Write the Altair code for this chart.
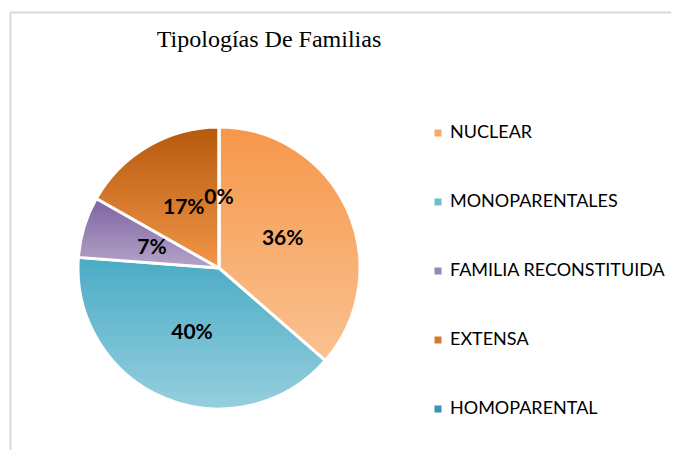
import altair as alt
import pandas as pd

# ---- data ----
categories = ["NUCLEAR", "MONOPARENTALES", "FAMILIA RECONSTITUIDA", "EXTENSA", "HOMOPARENTAL"]
values = [36.4, 39.8, 7.0, 16.8, 0.0]
title_text = "Tipologías De Familias"

# ---- styles ----
legend_colors = ["#f9a96a", "#6bbdd3", "#9a85b8", "#d7782a", "#3a93ab"]
gradients = {
    "NUCLEAR": ("#f6974a", "#fac291"),
    "MONOPARENTALES": ("#4aabc5", "#96cfde"),
    "FAMILIA RECONSTITUIDA": ("#7f63a1", "#b4a4c8"),
    "EXTENSA": ("#b55a0c", "#f29549"),
    "HOMOPARENTAL": ("#2f8199", "#4aabc5"),
}

df = pd.DataFrame({"cat": categories, "value": values, "order": list(range(len(categories)))})

CX, CY, R = 211, 260, 141
theta_scale = alt.Scale(domain=[0, 100])

base = (
    alt.Chart(df)
    .transform_window(end="sum(value)", sort=[alt.SortField("order")], frame=[None, 0])
    .transform_calculate(start="datum.end - datum.value", mid="(datum.end + datum.end - datum.value) / 2",
                         label="round(datum.value) + '%'")
)

pie_base = base.mark_arc(outerRadius=R, stroke="white", strokeWidth=3).encode(
    theta=alt.Theta("start:Q", scale=theta_scale),
    theta2="end:Q",
    x=alt.value(CX),
    y=alt.value(CY),
    color=alt.Color(
        "cat:N",
        scale=alt.Scale(domain=categories, range=legend_colors),
        legend=alt.Legend(
            title=None,
            orient="none",
            legendX=421,
            legendY=116,
            symbolType="square",
            symbolSize=49,
            symbolStrokeWidth=0,
            labelFont="Lato",
            labelFontSize=18,
            labelColor="#000000",
            labelOffset=3,
            labelLimit=400,
            rowPadding=51,
            padding=0,
        ),
    ),
)

layers = [pie_base]
for cat in categories:
    c0, c1 = gradients[cat]
    grad = alt.LinearGradient(
        gradient="linear",
        x1=0, y1=0, x2=0, y2=1,
        stops=[alt.GradientStop(color=c0, offset=0), alt.GradientStop(color=c1, offset=1)],
    )
    layers.append(
        base.transform_filter(alt.datum.cat == cat)
        .mark_arc(outerRadius=R, stroke="white", strokeWidth=3, fill=grad)
        .encode(
            theta=alt.Theta("start:Q", scale=theta_scale),
            theta2="end:Q",
            x=alt.value(CX),
            y=alt.value(CY),
        )
    )

labels = base.mark_text(radius=70, font="Lato", fontWeight="bold", fontSize=21, color="#000000",
                        align="center", baseline="middle").encode(
    theta=alt.Theta("mid:Q", scale=theta_scale),
    text="label:N",
    x=alt.value(CX),
    y=alt.value(CY),
)
layers.append(labels)

title = alt.Chart(pd.DataFrame({"t": [title_text]})).mark_text(
    font="Liberation Serif", fontSize=24, color="#000000", align="center", baseline="alphabetic"
).encode(text="t:N", x=alt.value(261), y=alt.value(39))

frame_df = pd.DataFrame({"k": [0]})
frame_top = alt.Chart(frame_df).mark_rule(color="#d9d9d9", strokeWidth=2).encode(
    x=alt.value(2.5), x2=alt.value(700), y=alt.value(4.5))
frame_left = alt.Chart(frame_df).mark_rule(color="#d9d9d9", strokeWidth=2).encode(
    x=alt.value(2.5), y=alt.value(4.5), y2=alt.value(500))

chart = (
    alt.layer(frame_top, frame_left, *layers, title)
    .properties(width=663, height=442, padding=0, autosize=alt.AutoSizeParams(type="none"))
    .configure_view(stroke=None)
)

chart.save("out.html", embed_options={"renderer": "svg", "actions": False})
